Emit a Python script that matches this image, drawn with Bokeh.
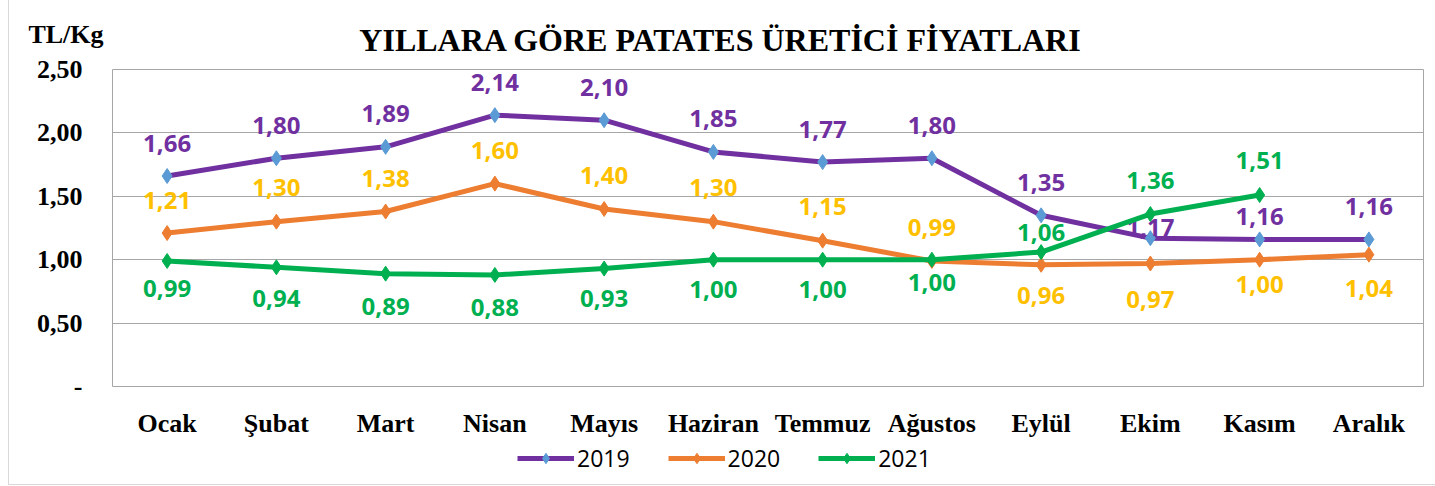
from bokeh.plotting import figure
from bokeh.models import (ColumnDataSource, Legend, LegendItem, CustomJSTickFormatter,
                          FixedTicker, Div)
from bokeh.layouts import column
from bokeh.core.properties import value
from bokeh.embed import file_html
from bokeh.resources import INLINE

months = ["Ocak", "Şubat", "Mart", "Nisan", "Mayıs", "Haziran", "Temmuz",
          "Ağustos", "Eylül", "Ekim", "Kasım", "Aralık"]
y2019 = [1.66, 1.80, 1.89, 2.14, 2.10, 1.85, 1.77, 1.80, 1.35, 1.17, 1.16, 1.16]
y2020 = [1.21, 1.30, 1.38, 1.60, 1.40, 1.30, 1.15, 0.99, 0.96, 0.97, 1.00, 1.04]
y2021 = [0.99, 0.94, 0.89, 0.88, 0.93, 1.00, 1.00, 1.00, 1.06, 1.36, 1.51]
y_ticks = [0, 0.5, 1.0, 1.5, 2.0, 2.5]
title_text = "YILLARA GÖRE PATATES ÜRETİCİ FİYATLARI"
unit_text = "TL/Kg"

# label placement (pixels, screen: negative = above)
off2019 = [-33, -33, -33, -33, -33, -33, -33, -33, -33, -11, -23, -33]
off2020 = [-33, -34, -33, -33, -33, -34, -34, -33, 31, 36, 25, 34]
off2021 = [28, 31, 33, 33, 30, 30, 30, 23, -20, -34, -35]

CW = 1426
HH = 53
header = Div(text=f"""
<div style="position:relative;width:{CW}px;height:{HH}px;font-family:'Liberation Serif';
font-weight:bold;color:black;">
  <div style="position:absolute;left:57px;top:22px;transform:translateX(-50%);
  font-size:26px;line-height:26px;white-space:nowrap;">{unit_text}</div>
  <div style="position:absolute;left:711px;top:28px;transform:translateX(-50%);
  font-size:32px;line-height:24px;white-space:nowrap;">{title_text}</div>
</div>""", width=CW, height=HH, margin=0)

p = figure(x_range=months, y_range=(0, 2.5), width=CW, height=440 - HH,
           output_backend="svg", toolbar_location=None,
           min_border_left=103, min_border_right=12, min_border_top=69 - HH,
           min_border_bottom=48, margin=0)

p.outline_line_color = "#A6A6A6"
p.outline_line_width = 1
p.xgrid.grid_line_color = None
p.ygrid.grid_line_color = "#A6A6A6"
p.ygrid.grid_line_width = 1

p.yaxis.ticker = FixedTicker(ticks=y_ticks)
p.yaxis.formatter = CustomJSTickFormatter(code="""
    if (tick == 0) return '-';
    return tick.toFixed(2).replace('.', ',');
""")
for ax in (p.xaxis, p.yaxis):
    ax.axis_line_color = None
    ax.major_tick_line_color = None
    ax.minor_tick_line_color = None
    ax.major_label_text_font = "Liberation Serif"
    ax.major_label_text_font_style = "bold"
    ax.major_label_text_font_size = "26px"
    ax.major_label_text_color = "black"
p.yaxis.major_label_standoff = 24
p.xaxis.major_label_standoff = 16

series = [
    ("2019", y2019, "#7030A0", "#5B9BD5", "#7030A0", off2019),
    ("2020", y2020, "#ED7D31", "#ED7D31", "#FFC000", off2020),
    ("2021", y2021, "#00B050", "#00B050", "#00B050", off2021),
]

lg = figure(width=CW, height=44, output_backend="svg", toolbar_location=None,
            x_range=(0, 1), y_range=(0, 1), min_border=0, margin=0,
            x_axis_location=None, y_axis_location=None)
lg.grid.visible = False
lg.outline_line_color = None

items = []
for name, ys, lc, mc, tc, offs in series:
    xs = months[:len(ys)]
    src = ColumnDataSource(dict(x=xs, y=ys,
                                t=[f"{v:.2f}".replace(".", ",") for v in ys],
                                off=offs))
    p.line("x", "y", source=src, line_color=lc, line_width=5)
    p.scatter("x", "y", source=src, marker="diamond", size=15,
              fill_color=mc, line_color=mc)
    p.text("x", "y", text="t", source=src, y_offset="off",
           text_align="center", text_baseline="middle",
           text_font=value("Open Sans"), text_font_style="bold",
           text_font_size="24px", text_color=tc)
    # off-range placeholder so the legend swatch gets drawn
    e = ColumnDataSource(dict(x=[5, 6], y=[5, 5]))
    r1 = lg.line("x", "y", source=e, line_color=lc, line_width=5)
    r2 = lg.scatter("x", "y", source=e, marker="diamond", size=15,
                    fill_color=mc, line_color=mc)
    items.append(LegendItem(label=name, renderers=[r1, r2]))

legend = Legend(items=items, orientation="horizontal", location=(405, 10),
                glyph_width=57, glyph_height=26, spacing=38,
                label_text_font="Open Sans", label_text_font_size="23px",
                label_text_color="black",
                label_standoff=3, border_line_color=None,
                background_fill_alpha=0, padding=0, margin=0)
lg.add_layout(legend)

layout = column(header, p, lg, spacing=0,
                styles={"margin-left": "8px", "border-left": "1px solid #D9D9D9",
                        "border-bottom": "1px solid #D9D9D9"})

open("out.html", "w").write(file_html(layout, INLINE))
